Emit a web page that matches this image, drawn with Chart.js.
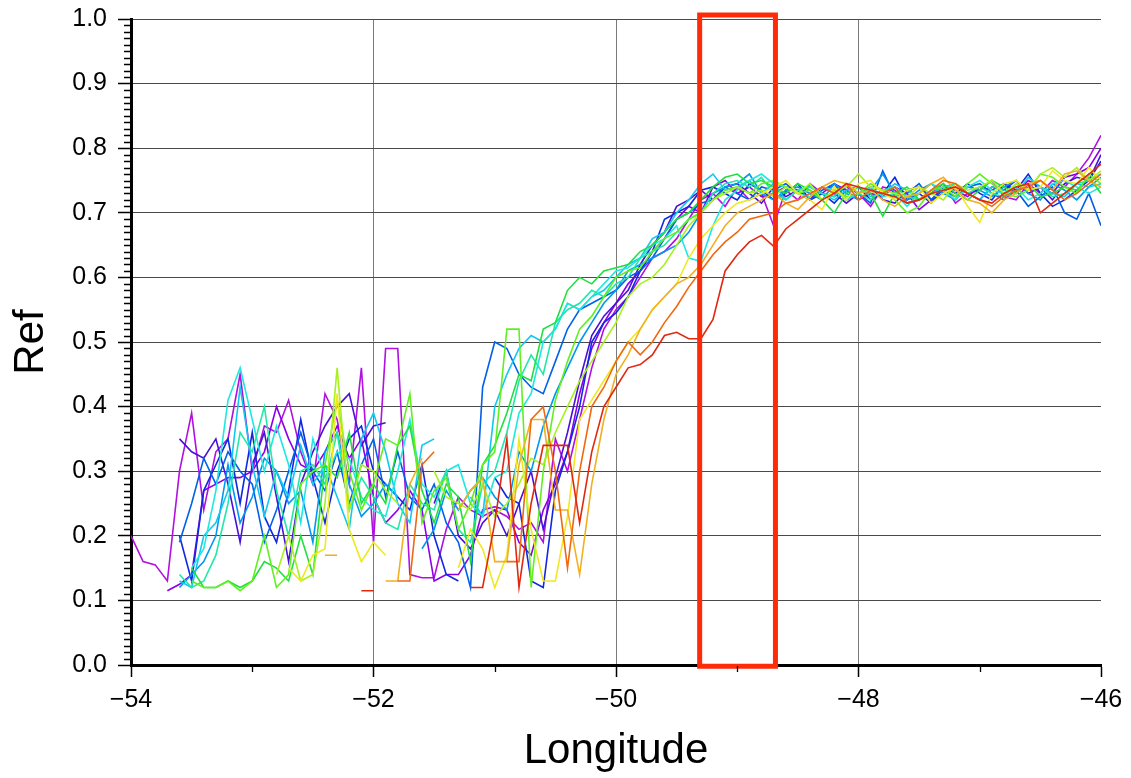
<!DOCTYPE html>
<html>
<head>
<meta charset="utf-8">
<script src="https://cdn.jsdelivr.net/npm/chart.js@4.4.1/dist/chart.umd.min.js"></script>
<style>
html,body{margin:0;padding:0;background:#fff;}
#wrap{position:absolute;left:0;top:0;width:1131px;height:778px;}
</style>
</head>
<body>
<div id="wrap"><canvas id="c" width="1131" height="778"></canvas></div>
<script>
const _ = null;
// Longitude grid (degrees)
const lon = [-54.0,-53.9,-53.8,-53.7,-53.6,-53.5,-53.4,-53.3,-53.2,-53.1,
 -53.0,-52.9,-52.8,-52.7,-52.6,-52.5,-52.4,-52.3,-52.2,-52.1,
 -52.0,-51.9,-51.8,-51.7,-51.6,-51.5,-51.4,-51.3,-51.2,-51.1,
 -51.0,-50.9,-50.8,-50.7,-50.6,-50.5,-50.4,-50.3,-50.2,-50.1,
 -50.0,-49.9,-49.8,-49.7,-49.6,-49.5,-49.4,-49.3,-49.2,-49.1,
 -49.0,-48.9,-48.8,-48.7,-48.6,-48.5,-48.4,-48.3,-48.2,-48.1,
 -48.0,-47.9,-47.8,-47.7,-47.6,-47.5,-47.4,-47.3,-47.2,-47.1,
 -47.0,-46.9,-46.8,-46.7,-46.6,-46.5,-46.4,-46.3,-46.2,-46.1,-46.0];

// Reflectance series
const s00 = [.20,.16,.155,.13,.30,.39,.24,.33,.35,.45,
 .30,.37,.36,.41,.33,.28,.42,.38,.28,.46,
 .19,.49,.49,.14,.135,.135,.21,.26,.24,.23,
 .24,.23,.21,.22,.19,.35,.30,.38,.46,.52,
 .55,.57,.60,.63,.64,.66,.69,.72,.73,.71,
 .74,.72,.73,.68,.735,.72,.745,.73,.725,.74,
 .73,.71,.74,.735,.715,.72,.73,.745,.715,.73,
 .735,.75,.725,.72,.745,.73,.75,.74,.76,.785,.82];
const s01 = [_,_,_,.115,.125,.14,.27,.28,.29,.29,
 .30,.33,.40,.35,.31,.30,.33,.37,.32,.35,
 .26,.22,.24,.27,.24,.13,.14,.14,.17,.24,
 .245,.24,.19,.17,.24,.28,.33,.42,.49,.53,
 .56,.59,.61,.64,.66,.69,.71,.70,.74,.75,
 .73,.74,.725,.73,.74,.735,.72,.73,.745,.735,
 .72,.73,.725,.74,.73,.705,.72,.74,.735,.725,
 .74,.735,.745,.73,.75,.74,.73,.755,.76,.77,.80];
const s02 = [_,_,_,_,.35,.33,.32,.35,.28,.19,
 .31,.36,.26,.16,.28,.33,.37,.40,.42,.34,
 .37,.375,_,_,_,.25,.30,.20,.18,.22,
 .24,.20,.25,.30,.21,.29,.36,.44,.51,.54,
 .56,.58,.62,.65,.67,.71,.72,.735,.72,.74,
 .745,.73,.715,.74,.725,.735,.72,.74,.73,.715,
 .73,.74,.72,.715,.735,.74,.72,.73,.745,.73,
 .72,.74,.735,.75,.73,.74,.72,.745,.755,.75,.79];
const s03 = [_,_,_,_,.20,.13,.27,.31,.35,.25,
 .36,.23,.19,.27,.38,.29,.22,.30,.35,.37,
 .30,.28,.26,.24,.31,.20,.14,.13,_,_,
 .29,.26,.25,.13,.12,.27,.33,.40,.50,.53,
 .545,.57,.61,.64,.69,.70,.71,.735,.74,.73,
 .72,.745,.735,.72,.73,.745,.72,.73,.715,.735,
 .74,.72,.73,.755,.72,.73,.715,.74,.73,.745,
 .73,.72,.745,.735,.76,.73,.71,.72,.735,.75,.78];
const s04 = [_,_,_,_,.19,.25,.32,.28,.33,.30,
 .28,.19,.24,.30,.36,.30,.27,.33,.25,.31,
 .35,.26,.33,.26,.24,.28,.22,.19,.12,.43,
 .50,.49,.45,.43,.42,.47,.52,.55,.56,.57,
 .58,.60,.61,.63,.66,.69,.70,.715,.72,.74,
 .73,.72,.74,.735,.745,.73,.72,.735,.745,.72,
 .73,.715,.765,.725,.73,.745,.72,.735,.725,.74,
 .745,.73,.72,.735,.71,.725,.74,.70,.69,.73,.68];
const s05 = [_,_,_,_,.12,.14,.16,.20,.31,.22,
 .26,.32,.30,.25,.27,.19,.33,.36,.28,.23,
 .25,.28,.26,_,.18,.21,.27,.24,.27,.29,
 .26,.24,.33,.30,.37,.42,.46,.50,.53,.56,
 .58,.61,.62,.63,.64,.65,.67,.70,.73,.74,
 .745,.76,.73,.72,.735,.74,.73,.72,.745,.73,
 .72,.735,.76,.73,.72,.735,.745,.73,.72,.74,
 .735,.725,.74,.75,.73,.72,.745,.735,.72,.74,.755];
const s06 = [_,_,_,_,.13,.12,.20,.22,.27,.43,
 .31,.23,.30,.26,.34,.28,.31,.26,.21,.35,
 .39,.33,.25,.22,.34,.35,_,_,.26,.23,
 .40,.45,.49,.51,.50,.52,.56,.55,.57,.58,
 .60,.62,.63,.66,.67,.70,.72,.745,.76,.735,
 .74,.75,.73,.745,.72,.735,.74,.73,.72,.735,
 .74,.725,.73,.745,.735,.72,.73,.74,.745,.73,
 .72,.74,.735,.73,.755,.74,.73,.725,.745,.74,.745];
const s07 = [_,_,_,_,_,.15,.18,.27,.41,.46,
 .38,.30,.37,.31,.22,.35,.29,.33,.32,.26,
 .24,.23,.30,.38,.28,.26,.30,.31,.25,.23,
 .29,.30,.39,.42,.50,.52,.56,.55,.57,.59,
 .61,.615,.63,.65,.66,.68,.63,.625,.68,.72,
 .735,.75,.76,.745,.74,.73,.725,.74,.735,.72,
 .73,.74,.725,.73,.71,.73,.745,.735,.72,.74,
 .75,.735,.73,.74,.72,.73,.745,.75,.74,.73,.74];
const s08 = [_,_,_,_,.14,.12,.13,.17,.25,.36,
 .33,.40,.27,.20,.30,.31,.28,.36,.24,.29,
 .26,.22,.21,.28,.25,.24,.30,.21,.19,.28,
 .30,.36,.44,.48,.45,.53,.55,.56,.58,.57,
 .59,.60,.63,.64,.65,.67,.69,.70,.73,.745,
 .75,.74,.755,.73,.72,.735,.74,.73,.725,.745,
 .73,.72,.735,.74,.725,.72,.73,.735,.745,.73,
 .74,.73,.725,.745,.735,.74,.725,.73,.745,.75,.76];
const s09 = [_,_,_,_,_,.15,.12,.12,.13,.12,
 .13,.16,.15,.13,.20,.14,.31,.29,.36,.25,
 .28,.25,.34,.37,.27,.22,.28,.26,.16,.31,
 .34,.39,.45,.44,.52,.53,.58,.60,.59,.61,
 .615,.62,.64,.65,.67,.69,.70,.72,.74,.755,
 .76,.745,.75,.74,.73,.745,.735,.72,.70,.73,
 .74,.73,.695,.73,.74,.72,.735,.745,.73,.72,
 .735,.75,.74,.73,.745,.725,.73,.74,.735,.755,.73];
const s10 = [_,_,_,_,_,.13,.12,.12,.13,.115,
 .13,.20,.12,.14,.28,.30,.31,.41,.30,.24,
 .28,.35,.34,.42,.22,.27,.29,.21,.25,.31,
 .33,.52,.52,.12,.30,.41,.47,.52,.54,.57,
 .60,.61,.615,.64,.66,.67,.69,.70,.72,.735,
 .74,.73,.745,.75,.74,.73,.735,.72,.735,.725,
 .73,.745,.735,.72,.70,.71,.735,.74,.725,.745,
 .76,.745,.73,.725,.735,.76,.755,.74,.73,.76,.745];
const s11 = [_,_,_,_,_,_,_,_,_,_,
 _,_,.14,.20,.13,.14,.25,.46,.24,.31,
 .30,.27,.25,_,_,.30,.26,.25,.24,.28,
 .23,.25,.28,.32,.31,.36,.40,.44,.47,.50,
 .53,.57,.59,.60,.62,.65,.68,.70,.72,.73,
 .74,.73,.735,.725,.74,.73,.745,.72,.735,.74,
 .76,.74,.735,.73,.725,.74,.73,.72,.745,.735,
 .74,.75,.73,.745,.735,.76,.77,.755,.77,.75,.765];
const s12 = [_,_,_,_,_,_,_,_,_,_,
 _,_,_,.15,.13,.17,.18,.42,.21,.16,
 .19,.17,_,_,_,_,_,.15,.21,.18,
 .12,.17,.35,.21,.13,.13,.23,.38,.41,.44,
 .47,.50,.52,.55,.57,.59,.63,.66,.68,.70,
 .715,.72,.73,.74,.75,.73,.72,.705,.74,.72,
 .745,.75,.73,.72,.735,.74,.715,.73,.74,.71,
 .685,.73,.745,.75,.735,.74,.765,.75,.745,.77,.75];
const s13 = [_,_,_,_,_,_,_,_,_,_,
 _,_,_,_,_,_,.17,.17,_,_,
 _,.13,.13,.28,.32,_,_,.24,.27,.29,
 .16,.16,.31,.38,.38,.24,.24,.14,.28,.38,
 .45,.48,.52,.55,.57,.59,.60,.62,.65,.68,
 .70,.71,.72,.73,.715,.705,.725,.74,.75,.745,
 .73,.735,.72,.71,.725,.73,.745,.755,.735,.72,
 .715,.70,.72,.73,.745,.75,.735,.76,.765,.75,.74];
const s14 = [_,_,_,_,_,_,_,_,_,_,
 _,_,_,_,_,_,_,_,_,_,
 _,_,.13,.13,.31,.33,_,_,_,_,
 _,.16,.16,.38,.40,.30,.15,.30,.40,.43,
 .47,.50,.48,.50,.53,.555,.585,.61,.635,.655,
 .67,.69,.695,.70,.715,.72,.73,.74,.73,.745,
 .72,.735,.73,.74,.715,.72,.735,.75,.745,.73,
 .72,.71,.725,.735,.74,.75,.735,.72,.73,.745,.76];
const s15 = [_,_,_,_,_,_,_,_,_,_,
 _,_,_,_,_,_,_,_,_,.115,
 .115,_,_,_,_,_,_,_,.12,.12,
 .22,.35,.12,.25,.34,.34,.34,.22,.33,.40,
 .43,.46,.465,.48,.51,.515,.505,.505,.535,.61,
 .635,.655,.665,.648,.675,.69,.705,.72,.73,.745,
 .74,.735,.73,.725,.715,.72,.73,.735,.74,.73,
 .72,.715,.73,.74,.745,.70,.715,.73,.745,.76,.775];

const seriesList = [s00,s01,s02,s03,s04,s05,s06,s07,s08,s09,s10,s11,s12,s13,s14,s15];
const seriesColors = ['#b010e0','#8a00e8','#4a10d8','#1028e0','#0060e8','#0098f0','#10c8f0','#20e8e0',
  '#20e8a8','#20e040','#60f020','#a8f020','#f0e820','#f0b020','#f06810','#e02810'];

// Highlight box (longitude / reflectance corners)
const boxLon = [-49.31,-48.685,-48.685,-49.31,-49.31];
const boxRef = [1.006,1.006,-0.002,-0.002,1.006];

const xTickValues = [-54,-53,-52,-51,-50,-49,-48,-47,-46];
const xMajorTicks = [-54,-52,-50,-48,-46];
const xGridLines = [-52,-50,-48];

const datasets = seriesList.map((s,i)=>({
  label: 'S'+i,
  data: lon.map((x,j)=>({x:x, y:s[j]})),
  borderColor: seriesColors[i],
  backgroundColor: seriesColors[i],
  borderWidth: 1.6,
  pointRadius: 0,
  spanGaps: false,
  tension: 0,
  order: 15 - i
}));
datasets.push({
  label: 'box',
  data: boxLon.map((x,j)=>({x:x, y:boxRef[j]})),
  borderColor: '#ff2a08',
  borderWidth: 5,
  pointRadius: 0,
  borderJoinStyle: 'miter',
  borderCapStyle: 'square',
  clip: false,
  tension: 0,
  order: -1
});

const minorTicks = {
  id: 'minorTicks',
  afterDraw(chart) {
    const ctx = chart.ctx, xs = chart.scales.x, ys = chart.scales.y;
    ctx.save();
    ctx.strokeStyle = '#000';
    ctx.lineWidth = 1.3;
    ctx.beginPath();
    for (let k = 0; k <= 100; k++) {
      if (k % 10 === 0) continue;
      const y = Math.round(ys.getPixelForValue(k/100)) + 0.5;
      ctx.moveTo(xs.left - 7, y);
      ctx.lineTo(xs.left - 1, y);
    }
    xTickValues.forEach(v => {
      if (xMajorTicks.includes(v)) return;
      const x = Math.round(xs.getPixelForValue(v)) + 0.5;
      ctx.moveTo(x, ys.bottom + 1);
      ctx.lineTo(x, ys.bottom + 7);
    });
    ctx.stroke();
    ctx.restore();
  }
};

const FONT = "'Liberation Sans', Arial, Helvetica, sans-serif";

new Chart(document.getElementById('c'), {
  type: 'line',
  data: { datasets },
  plugins: [minorTicks],
  options: {
    responsive: false,
    devicePixelRatio: 1,
    animation: false,
    events: [],
    layout: { padding: { top: 19, right: 30, bottom: 0, left: 0 } },
    plugins: { legend: { display: false }, tooltip: { enabled: false } },
    scales: {
      x: {
        type: 'linear',
        min: -54, max: -46,
        afterFit(s) { s.height = 113; s.paddingLeft = 0; s.paddingRight = 0; },
        afterBuildTicks(s) { s.ticks = xTickValues.map(v => ({ value: v })); },
        ticks: {
          font: { family: FONT, size: 25 },
          color: '#000',
          padding: 8,
          maxRotation: 0,
          autoSkip: false,
          callback: (v) => xMajorTicks.includes(v) ? '\u2212' + Math.abs(v) : ''
        },
        grid: {
          color: (c) => (c.tick && xGridLines.includes(c.tick.value)) ? '#7a7a7a' : 'rgba(0,0,0,0)',
          tickColor: (c) => (c.tick && xMajorTicks.includes(c.tick.value)) ? '#000' : 'rgba(0,0,0,0)',
          lineWidth: 1,
          tickWidth: 1.5,
          tickLength: 12
        },
        border: { display: true, color: '#000', width: 3 },
        title: {
          display: true,
          text: 'Longitude',
          font: { family: FONT, size: 42 },
          color: '#000',
          padding: { top: 0, bottom: 1 }
        }
      },
      y: {
        min: 0, max: 1,
        afterFit(s) { s.width = 131; s.paddingTop = 0; s.paddingBottom = 0; },
        ticks: {
          stepSize: 0.1,
          font: { family: FONT, size: 25 },
          color: '#000',
          padding: 11,
          callback: (v) => Number(v).toFixed(1)
        },
        grid: {
          color: '#4a4a4a',
          tickColor: '#000',
          lineWidth: 1,
          tickWidth: 1.5,
          tickLength: 13
        },
        border: { display: true, color: '#000', width: 3 },
        title: {
          display: true,
          text: 'Ref',
          font: { family: FONT, size: 42 },
          color: '#000',
          padding: { top: 6, bottom: 0 }
        }
      }
    }
  }
});
</script>
</body>
</html>
